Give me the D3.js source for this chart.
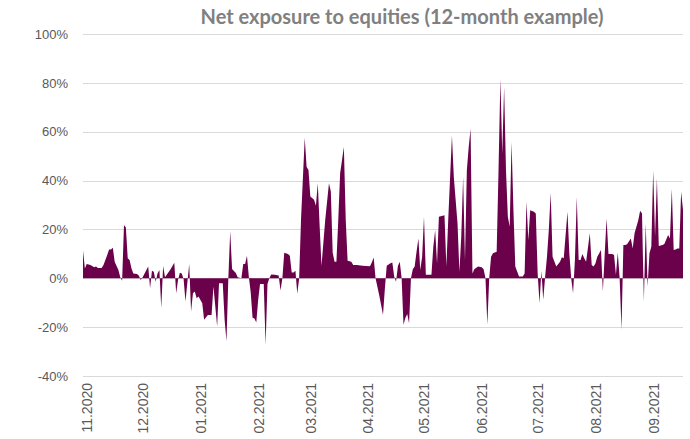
<!DOCTYPE html>
<html>
<head>
<meta charset="utf-8">
<script src="https://cdn.jsdelivr.net/npm/d3@7"></script>
<style>
  body { margin: 0; background: #fff; }
  svg { display: block; }
</style>
</head>
<body>
<svg id="chart" width="690" height="439"></svg>
<script>
// data: date of each vertex and net exposure in %
const dates = [
  '2020-10-30','2020-10-31','2020-11-01','2020-11-03','2020-11-05','2020-11-06','2020-11-07','2020-11-09','2020-11-10','2020-11-12',
  '2020-11-13','2020-11-14','2020-11-15','2020-11-16','2020-11-18','2020-11-19','2020-11-20','2020-11-21','2020-11-22','2020-11-23',
  '2020-11-24','2020-11-25','2020-11-26','2020-11-28','2020-11-29','2020-11-30','2020-12-01','2020-12-04','2020-12-05','2020-12-06',
  '2020-12-07','2020-12-08','2020-12-09','2020-12-10','2020-12-11','2020-12-12','2020-12-13','2020-12-16','2020-12-18','2020-12-19',
  '2020-12-20','2020-12-21','2020-12-22','2020-12-23','2020-12-24','2020-12-26','2020-12-27','2020-12-28','2020-12-29','2020-12-30',
  '2020-12-31','2021-01-02','2021-01-03','2021-01-05','2021-01-07','2021-01-08','2021-01-10','2021-01-11','2021-01-13','2021-01-14',
  '2021-01-15','2021-01-16','2021-01-17','2021-01-18','2021-01-20','2021-01-21','2021-01-23','2021-01-24','2021-01-25','2021-01-26',
  '2021-01-27','2021-01-28','2021-01-29','2021-01-30','2021-01-31','2021-02-01','2021-02-02','2021-02-04','2021-02-05','2021-02-06',
  '2021-02-07','2021-02-08','2021-02-10','2021-02-12','2021-02-13','2021-02-14','2021-02-15','2021-02-17','2021-02-18','2021-02-19',
  '2021-02-20','2021-02-21','2021-02-22','2021-02-23','2021-02-24','2021-02-26','2021-02-27','2021-02-28','2021-03-01','2021-03-03',
  '2021-03-04','2021-03-05','2021-03-06','2021-03-07','2021-03-09','2021-03-11','2021-03-12','2021-03-13','2021-03-14','2021-03-15',
  '2021-03-16','2021-03-17','2021-03-19','2021-03-20','2021-03-21','2021-03-23','2021-03-24','2021-03-26','2021-03-29','2021-04-02',
  '2021-04-03','2021-04-04','2021-04-05','2021-04-07','2021-04-09','2021-04-10','2021-04-11','2021-04-13','2021-04-14','2021-04-15',
  '2021-04-16','2021-04-17','2021-04-18','2021-04-19','2021-04-20','2021-04-21','2021-04-22','2021-04-23','2021-04-24','2021-04-25',
  '2021-04-26','2021-04-27','2021-04-28','2021-04-29','2021-04-30','2021-05-01','2021-05-02','2021-05-05','2021-05-06','2021-05-07',
  '2021-05-08','2021-05-09','2021-05-12','2021-05-13','2021-05-14','2021-05-16','2021-05-17','2021-05-19','2021-05-20','2021-05-21',
  '2021-05-22','2021-05-23','2021-05-24','2021-05-25','2021-05-26','2021-05-27','2021-05-28','2021-05-30','2021-06-01','2021-06-02',
  '2021-06-03','2021-06-04','2021-06-05','2021-06-06','2021-06-07','2021-06-09','2021-06-10','2021-06-11','2021-06-12','2021-06-13',
  '2021-06-14','2021-06-15','2021-06-16','2021-06-17','2021-06-18','2021-06-19','2021-06-21','2021-06-23','2021-06-24','2021-06-25',
  '2021-06-26','2021-06-27','2021-06-29','2021-06-30','2021-07-01','2021-07-02','2021-07-03','2021-07-04','2021-07-05','2021-07-06',
  '2021-07-07','2021-07-08','2021-07-09','2021-07-11','2021-07-13','2021-07-14','2021-07-15','2021-07-17','2021-07-18','2021-07-19',
  '2021-07-20','2021-07-21','2021-07-22','2021-07-23','2021-07-24','2021-07-25','2021-07-26','2021-07-27','2021-07-29','2021-07-30',
  '2021-07-31','2021-08-01','2021-08-02','2021-08-04','2021-08-05','2021-08-06','2021-08-07','2021-08-08','2021-08-10','2021-08-11',
  '2021-08-12','2021-08-13','2021-08-14','2021-08-15','2021-08-16','2021-08-17','2021-08-18','2021-08-20','2021-08-21','2021-08-22',
  '2021-08-24','2021-08-25','2021-08-26','2021-08-27','2021-08-28','2021-08-29','2021-08-30','2021-08-31','2021-09-01','2021-09-02',
  '2021-09-03','2021-09-04','2021-09-06','2021-09-07','2021-09-09','2021-09-10','2021-09-11','2021-09-12','2021-09-13','2021-09-14',
  '2021-09-15','2021-09-16','2021-09-17'
];
const exposure = [
  11.5, 4, 5.8, 5.4, 4.5, 4.8, 4.2, 4.2, 5.4, 9.5,
  11.8, 11.8, 12.5, 6.8, 3.4, 0.4, -1, 21.8, 20.8, 8.2,
  7.5, 4.1, 2, 1.8, 1, -0.7, 0.4, 4.8, -4.1, 3.1,
  2.7, -1.4, 2, 3.4, -12.2, 5, 0.4, 3.7, 6.4, -6.1,
  -0.7, 2.3, 2, -0.4, -9.5, 5.8, -13.6, -6.1, -5.4, -8.2,
  -7.5, -10.2, -17, -15, -15, -3.4, -19.7, -2, -2, -17,
  -25.8, 0, 19.3, 3.8, 2.2, 0.4, 0, 5.8, 5.8, 9.2,
  0.5, -5.7, -16.2, -16.5, -18.1, -9, -2.3, -2.3, -27.3, -2.3,
  0, 1.5, 1.4, 1.1, -5, 0, 10.5, 9.9, 9.2, 2.4,
  2.4, 3.1, -6.3, 0, 24, 57.5, 45.6, 44.3, 33.5, 32.1,
  29.7, 38.9, 21.3, 5.1, 24, 38.9, 35.5, 10.5, 6.8, 6.8,
  24, 43, 53.7, 24, 7.2, 6.8, 5.4, 5.4, 5.1, 4.9,
  6.5, 8.5, 0, -7, -14.9, -4.3, 5.1, 6.2, 6.5, 0.7,
  -1.4, 5, 6.8, 0, -19, -16.3, -14.6, -18.4, 0, 3.7,
  4.8, 10.9, 16.3, 3.4, 8.8, 25.2, 1.4, 1.4, 12.9, 19.7,
  6.1, 25.2, 25.8, 4.8, 23.8, 58.5, 41.5, 22.4, 2.7, 17,
  41.5, 7.5, 44.2, 53.7, 61.2, 2, 3.7, 4.8, 4.5, 3.7,
  0, -19, 0, 8.8, 10.2, 10.9, 44.2, 81.6, 51, 78.2,
  44.2, 25.2, 21.1, 55.8, 27.9, 4.8, 0.7, 0.7, 2, 31.3,
  15.6, 27.9, 27.2, 26.5, 2, -10.2, 3.1, -8.8, 0.5, 8.8,
  20, 35, 8.8, 4.8, 6.8, 8.6, 8.2, 27.2, 10.2, 0,
  -6.1, 7.5, 33.3, 7.5, 7.5, 9.9, 8.2, 6.8, 18.4, 5.4,
  4.8, 6.1, 8.8, 11.6, -5.4, 10.2, 24.5, 9.9, 9.9, 9.5,
  1.4, 10.5, 0, -21.1, 13.6, 13.6, 13.9, 16.3, 12.2, 18.4,
  23.8, 27.6, 26.5, -9.5, 22.4, -3.4, 10.2, 12.9, 44.2, 17,
  40.8, 13.2, 13.6, 14, 17.7, 16.3, 36.7, 11.6, 11.8, 12.2,
  12.2, 35.4, 28
];
const yTicks = [-40, -20, 0, 20, 40, 60, 80, 100];
const monthTicks = ['2020-11-01','2020-12-01','2021-01-01','2021-02-01','2021-03-01','2021-04-01',
  '2021-05-01','2021-06-01','2021-07-01','2021-08-01','2021-09-01'];

const parseDate = d3.timeParse('%Y-%m-%d');
const data = dates.map((d, i) => ({ date: parseDate(d), value: exposure[i] }));

const svg = d3.select('#chart');
const plotLeft = 83, plotRight = 683, plotTop = 34, plotBottom = 376;

const x = d3.scaleTime()
  .domain(d3.extent(data, d => d.date))
  .range([plotLeft, plotRight]);

const y = d3.scaleLinear()
  .domain([-40, 100])
  .range([plotBottom, plotTop]);

// title
svg.append('text')
  .attr('x', 402)
  .attr('y', 24)
  .attr('text-anchor', 'middle')
  .style('font-family', 'Lato, sans-serif')
  .style('font-weight', 'bold')
  .style('font-size', '20px')
  .style('fill', '#808080')
  .text('Net exposure to equities (12-month example)');

// gridlines
svg.append('g')
  .selectAll('line')
  .data(yTicks)
  .enter()
  .append('line')
  .attr('x1', plotLeft)
  .attr('x2', plotRight)
  .attr('y1', d => Math.round(y(d)) + 0.5)
  .attr('y2', d => Math.round(y(d)) + 0.5)
  .attr('stroke', '#d9d9d9')
  .attr('stroke-width', 1);

// y axis
const yAxis = d3.axisLeft(y)
  .tickValues(yTicks)
  .tickSize(0)
  .tickPadding(15)
  .tickFormat(d => d + '%');

svg.append('g')
  .attr('transform', `translate(${plotLeft}, 0)`)
  .call(yAxis)
  .call(g => g.select('.domain').remove())
  .selectAll('text')
  .style('font-family', '"Liberation Sans", Arial, sans-serif')
  .style('font-size', '13px')
  .style('fill', '#595959');

// area
const area = d3.area()
  .x(d => x(d.date))
  .y0(y(0))
  .y1(d => y(d.value));

svg.append('path')
  .datum(data)
  .attr('d', area)
  .attr('fill', '#6b004b');

// x axis, rotated month labels
const xAxis = d3.axisBottom(x)
  .tickValues(monthTicks.map(parseDate))
  .tickSize(0)
  .tickFormat(d3.timeFormat('%m.%Y'));

svg.append('g')
  .attr('transform', `translate(0, ${plotBottom})`)
  .call(xAxis)
  .call(g => g.select('.domain').remove())
  .selectAll('text')
  .attr('transform', 'rotate(-90)')
  .attr('x', -7)
  .attr('y', 0)
  .attr('dy', '0.35em')
  .attr('text-anchor', 'end')
  .style('font-family', '"Liberation Sans", Arial, sans-serif')
  .style('font-size', '14px')
  .style('fill', '#595959');
</script>
</body>
</html>
